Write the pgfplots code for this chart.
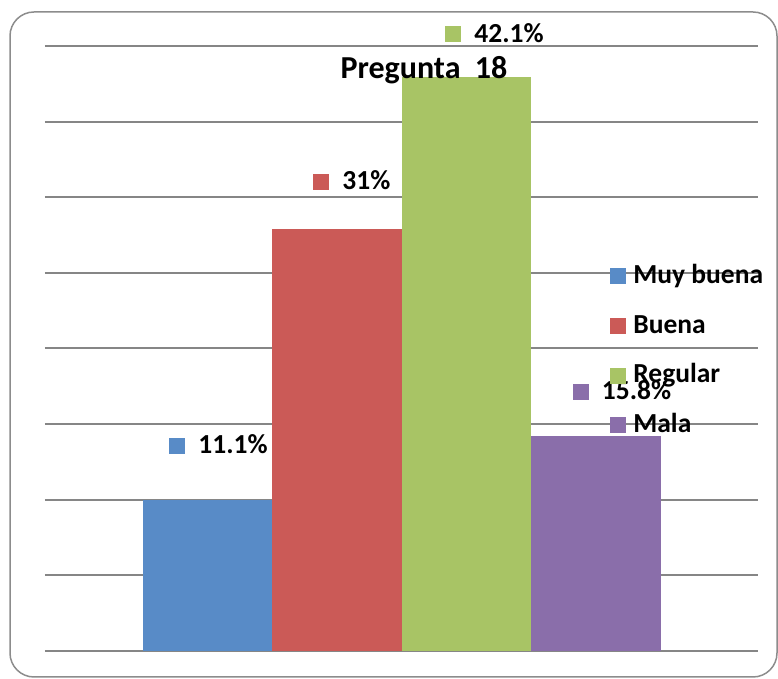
\documentclass[border=0pt]{standalone}
\usepackage{pgfplots}
\pgfplotsset{compat=1.18}
\usepackage{fontspec}
\setmainfont{Carlito}
\definecolor{cblue}{RGB}{88,139,199}
\definecolor{cred}{RGB}{203,90,87}
\definecolor{cgreen}{RGB}{168,196,101}
\definecolor{cpurple}{RGB}{138,110,170}
\definecolor{cgrid}{RGB}{134,134,134}
\definecolor{cframe}{RGB}{140,140,140}
\newcommand{\lab}[2]{\textcolor{#1}{\rule{8pt}{8pt}}\hspace{6.5pt}#2}
\begin{document}
\begin{tikzpicture}
\useasboundingbox (0,0) rectangle (389pt,339.5pt);
\draw[cframe, line width=0.75pt, rounded corners=12pt] (5pt,1pt) rectangle (388.5pt,333.5pt);
\begin{axis}[
  at={(22.5pt,14pt)}, anchor=south west,
  scale only axis, width=356.5pt, height=302.5pt,
  xmin=-1.2548, xmax=4.2510, ymin=0, ymax=44.4,
  axis line style={draw=none},
  xtick=\empty,
  ytick={0,5.55,11.1,16.65,22.2,27.75,33.3,38.85,44.4},
  yticklabels={},
  major tick length=0pt,
  ymajorgrids, grid style={cgrid, line width=1pt},
  ybar, bar width=64.75pt,
  clip=false,
  title={Pregunta~~18},
  every axis title/.style={at={(rel axis cs:0.5316,0.947)}, anchor=base, inner sep=0pt,
    font=\fontsize{16}{18}\selectfont\bfseries},
  nodes near coords style={anchor=base west, inner sep=0pt,
    font=\fontsize{13.75}{16}\selectfont\bfseries},
  legend style={draw=none, fill=none, inner sep=0pt, column sep=3.5pt, row sep=11.8pt,
    at={(rel axis cs:0.7924,0.6413)}, anchor=north west,
    nodes={inner sep=0pt, text height=10pt, text depth=3pt},
    font=\fontsize{13.75}{16}\selectfont\bfseries},
  legend image code/.code={\fill[#1] (0pt,-4pt) rectangle (8pt,4pt);},
  legend cell align=left,
]
\addplot[fill=cblue, draw=none, bar shift=0pt,
  nodes near coords={\lab{cblue}{11.1\%}},
  nodes near coords style={xshift=-19.25pt, yshift=23pt}] coordinates {(0,11.1)};
\addlegendentry{Muy buena}
\addplot[fill=cred, draw=none, bar shift=0pt,
  nodes near coords={\lab{cred}{31\%}},
  nodes near coords style={xshift=-12pt, yshift=19.5pt}] coordinates {(1,31)};
\addlegendentry{Buena}
\addplot[fill=cgreen, draw=none, bar shift=0pt,
  nodes near coords={\lab{cgreen}{42.1\%}},
  nodes near coords style={xshift=-10.75pt, yshift=17.5pt}] coordinates {(2,42.1)};
\addlegendentry{Regular}
\addplot[fill=cpurple, draw=none, bar shift=0pt,
  nodes near coords={\lab{cpurple}{15.8\%}},
  nodes near coords style={xshift=-11.75pt, yshift=18pt}] coordinates {(3,15.8)};
\addlegendentry{Mala}
\end{axis}
\end{tikzpicture}
\end{document}
